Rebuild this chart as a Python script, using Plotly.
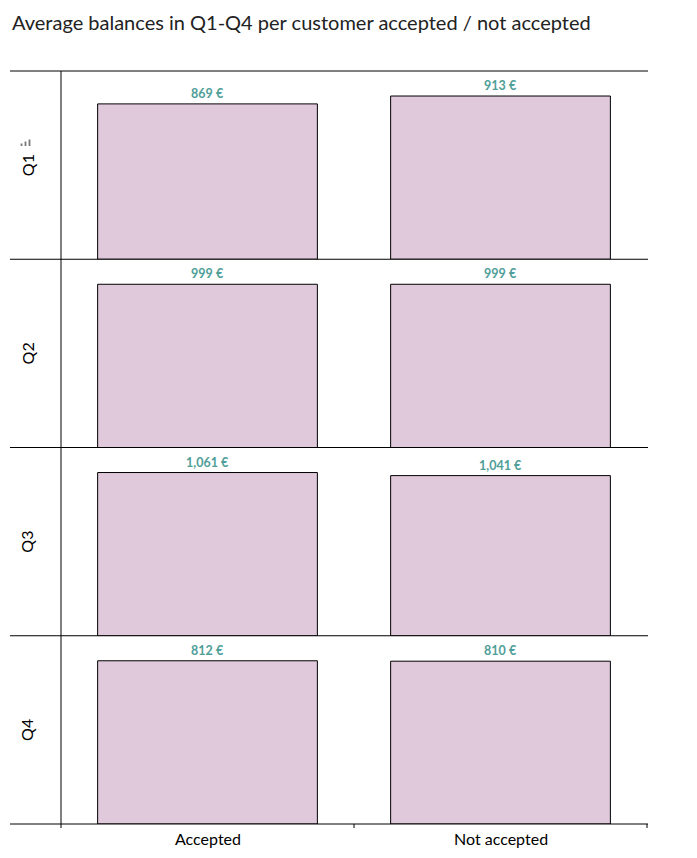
import plotly.graph_objects as go
from plotly.subplots import make_subplots

quarters = ["Q1", "Q2", "Q3", "Q4"]
categories = ["Accepted", "Not accepted"]
accepted = [869, 999, 1061, 812]
not_accepted = [913, 999, 1041, 810]

W, H = 697, 858
L, R, T, B = 61, 647, 71, 824
pw, ph = R - L, B - T

fig = make_subplots(rows=4, cols=1, vertical_spacing=0, shared_xaxes=True)

bar_color = "#e1c9dc"
label_color = "#4f9e98"

for i, q in enumerate(quarters):
    vals = [accepted[i], not_accepted[i]]
    fig.add_trace(go.Bar(
        x=categories, y=vals, width=0.75,
        marker=dict(color=bar_color, line=dict(color="black", width=1)),
        text=[f"{v:,} €" for v in vals], textposition="outside",
        textfont=dict(family="Lato", size=12.5, color=label_color, weight="bold"),
        cliponaxis=False, showlegend=False, hoverinfo="skip",
    ), row=i + 1, col=1)
    ymax = max(vals) * 188 / 163
    fig.update_yaxes(range=[0, ymax], visible=False, row=i + 1, col=1)
    fig.update_xaxes(showgrid=False, showticklabels=False, ticks="", showline=False,
                     range=[-0.5, 1.5], row=i + 1, col=1)

def px_x(x):
    return (x - L) / pw

def px_y(y):
    return 1 - (y - T) / ph

shapes = []
for k in range(5):
    y = T + k * ph / 4
    shapes.append(dict(type="line", xref="paper", yref="paper",
                       x0=px_x(10), x1=px_x(648), y0=px_y(y), y1=px_y(y),
                       line=dict(color="black", width=1)))
shapes.append(dict(type="line", xref="paper", yref="paper",
                   x0=0, x1=0, y0=px_y(828), y1=1, line=dict(color="black", width=1)))
for xp in [354, 647]:
    shapes.append(dict(type="line", xref="paper", yref="paper",
                       x0=px_x(xp), x1=px_x(xp), y0=px_y(824), y1=px_y(828),
                       line=dict(color="black", width=1)))
# small sort icon next to Q1
for bx, bh in [(21.5, 2.5), (25.5, 4.5), (29.5, 6.5)]:
    shapes.append(dict(type="rect", xref="paper", yref="paper",
                       x0=px_x(bx - 0.9), x1=px_x(bx + 0.9), y0=px_y(146), y1=px_y(146 - bh),
                       line=dict(width=0), fillcolor="#777"))

annotations = []
for i, q in enumerate(quarters):
    yc = T + (i + 0.5) * ph / 4
    annotations.append(dict(text=q, xref="paper", yref="paper", x=px_x(27), y=px_y(yc),
                            textangle=-90, showarrow=False,
                            font=dict(family="Lato", size=16, color="black"),
                            xanchor="center", yanchor="middle"))
for j, c in enumerate(categories):
    annotations.append(dict(text=c, xref="x4", yref="paper", x=c, y=px_y(838),
                            showarrow=False, xanchor="center", yanchor="middle",
                            font=dict(family="Lato", size=16, color="black")))
annotations.append(dict(text="Average balances in Q1-Q4 per customer accepted / not accepted",
                        xref="paper", yref="paper", x=px_x(10), y=px_y(22),
                        showarrow=False, xanchor="left", yanchor="middle",
                        font=dict(family="Lato", size=20, color="#222")))

fig.update_layout(
    width=W, height=H,
    margin=dict(l=L, r=W - R, t=T, b=H - B),
    plot_bgcolor="white", paper_bgcolor="white",
    bargap=0.25, shapes=shapes, annotations=annotations,
)

fig.write_html("out.html")
